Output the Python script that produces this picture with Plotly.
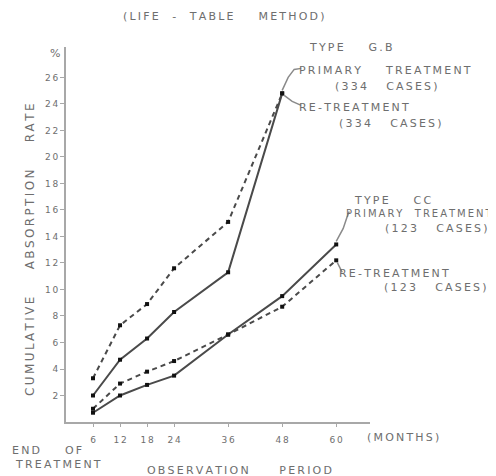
import plotly.graph_objects as go

# ---- data ----
months_gb = [6, 12, 18, 24, 36, 48]
gb_primary = [2.0, 4.7, 6.3, 8.3, 11.3, 24.8]
gb_retreat = [3.3, 7.3, 8.9, 11.6, 15.1, 24.8]

months_cc = [6, 12, 18, 24, 36, 48, 60]
cc_primary = [0.7, 2.0, 2.8, 3.5, 6.6, 9.5, 13.4]
cc_retreat = [1.0, 2.9, 3.8, 4.6, 6.6, 8.7, 12.2]

x_ticks = [6, 12, 18, 24, 36, 48, 60]
y_ticks = [2, 4, 6, 8, 10, 12, 14, 16, 18, 20, 22, 24, 26]

# ---- layout geometry (pixels of the page; page body has an 8px margin) ----
OFF = 8
W, H = 496 - OFF, 476 - OFF
L, R, T, B = 66, 370, 47, 422
XMAX = 67.5
YMAX = 28.3

FONT = "DejaVu Sans"
TXT = "#6e6e6e"
LINE = "#4a4a4a"


def sp(s):
    out = []
    for ch in s:
        out.append("\u00a0" if ch == " " else ch)
    return "\u2009".join(out)


def PX(x):
    return (x - L) / (R - L)


def PY(y):
    return (B - y) / (B - T)


def dx(m):
    return L + m * (R - L) / XMAX


def dy(v):
    return B - v * (B - T) / YMAX


fig = go.Figure()

series = [
    (months_gb, gb_primary, "solid"),
    (months_gb, gb_retreat, "5px,4px"),
    (months_cc, cc_primary, "solid"),
    (months_cc, cc_retreat, "5px,4px"),
]
for xs, ys, dash in series:
    fig.add_trace(go.Scatter(
        x=xs, y=ys, mode="lines+markers",
        line=dict(color=LINE, width=2, dash=dash),
        marker=dict(symbol="square", size=4, color="#111"),
        showlegend=False, cliponaxis=False,
    ))

ann = []


def text(s, x, y, anchor="left", size=11, angle=0):
    ann.append(dict(text=sp(s), x=PX(x), y=PY(y), xref="paper", yref="paper",
                    xanchor=anchor, yanchor="middle", showarrow=False,
                    textangle=angle,
                    font=dict(family=FONT, size=size, color=TXT)))


text("(LIFE  -  TABLE    METHOD)", 224, 17, "center")
text("TYPE    G.B", 307, 47)
text("PRIMARY    TREATMENT", 297, 70)
text("(334   CASES)", 333, 86)
text("RE-TREATMENT", 297, 108)
text("(334   CASES)", 337, 123)
text("TYPE    CC", 352, 200)
text("PRIMARY  TREATMENT", 344, 213, size=10)
text("(123   CASES)", 383, 228)
text("RE-TREATMENT", 337, 273)
text("(123   CASES)", 382, 287)
text("(MONTHS)", 365, 437)
text("END    OF", 10, 450)
text("TREATMENT", 13, 464)
text("OBSERVATION     PERIOD", 145, 470)
text("%", 55, 53, "center")
text("CUMULATIVE    ABSORPTION    RATE", 30, 250, "center", size=12, angle=-90)

# leader lines from the last points to their labels
shapes = []


def leader(pts):
    path = "M " + " L ".join(f"{PX(x):.4f},{PY(y):.4f}" for x, y in pts)
    shapes.append(dict(type="path", path=path, xref="paper", yref="paper",
                       line=dict(color="#8a8a8a", width=1.5)))


gx, gy1, gy2 = dx(months_gb[-1]), dy(gb_primary[-1]), dy(gb_retreat[-1])
leader([(gx, gy1 - 3), (gx + 6, gy1 - 16), (gx + 12, gy1 - 24), (gx + 19, gy1 - 25)])
leader([(gx + 2, gy2 + 2), (gx + 10, gy2 + 8), (gx + 19, gy2 + 12)])
cx, cy1, cy2 = dx(months_cc[-1]), dy(cc_primary[-1]), dy(cc_retreat[-1])
leader([(cx, cy1 - 3), (cx + 7, cy1 - 16), (cx + 11, cy1 - 28), (cx + 13, cy1 - 33)])
leader([(cx + 1, cy2 + 2), (cx + 6, cy2 + 12)])

axis_common = dict(
    showline=True, linecolor="#a8a8a8", linewidth=2, mirror=False,
    showgrid=False, zeroline=False, ticks="outside", tickcolor="#a8a8a8",
    tickfont=dict(family=FONT, size=9, color=TXT),
)

fig.update_layout(
    width=W, height=H,
    margin=dict(l=L - OFF, r=W - (R - OFF), t=T - OFF, b=H - (B - OFF), pad=0),
    paper_bgcolor="white", plot_bgcolor="white",
    xaxis=dict(range=[0, XMAX], tickvals=x_ticks,
               ticktext=[sp(str(v)) for v in x_ticks],
               ticklen=3, ticklabelstandoff=5, **axis_common),
    yaxis=dict(range=[0, YMAX], tickvals=y_ticks,
               ticktext=[sp(str(v)) for v in y_ticks],
               ticklen=4, **axis_common),
    annotations=ann, shapes=shapes,
)

fig.write_html("out.html")
